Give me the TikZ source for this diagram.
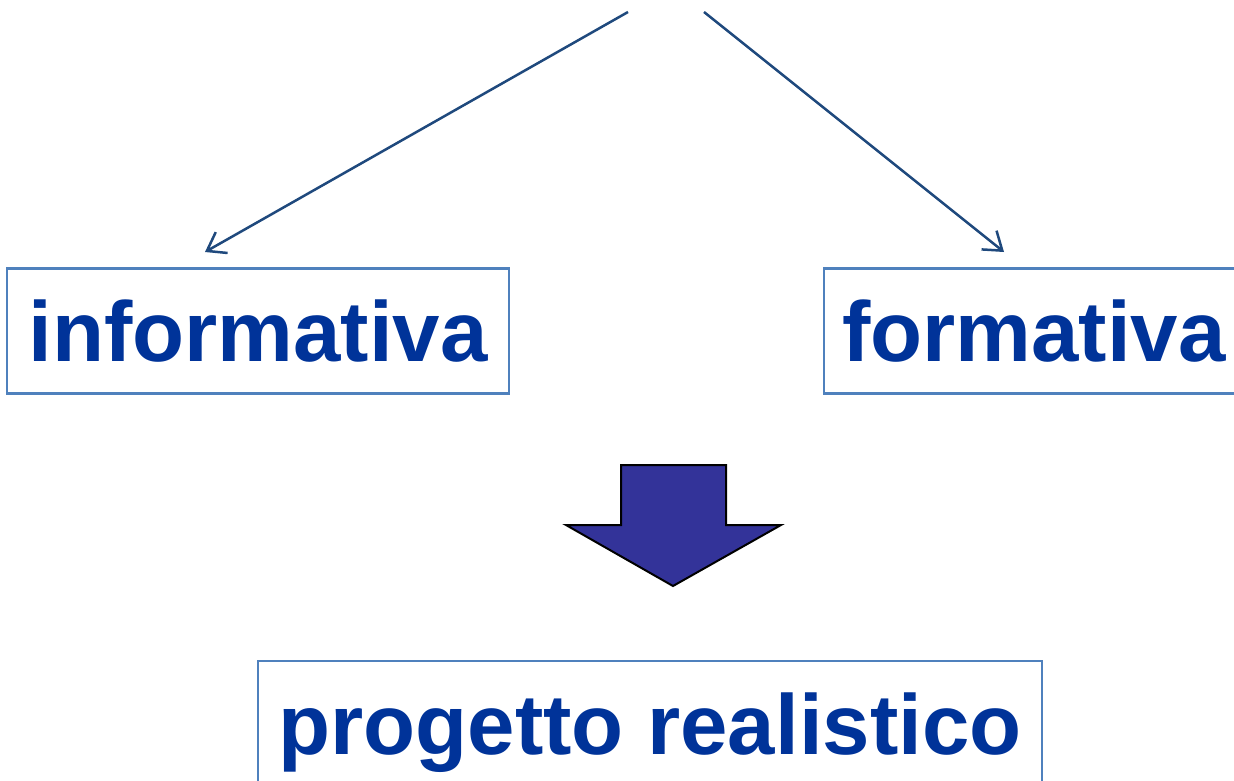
\documentclass[tikz,border=0pt]{standalone}
\usepackage{fontspec}
\setmainfont{Liberation Sans}
\usetikzlibrary{arrows.meta,positioning}
\definecolor{mytext}{RGB}{0,51,153}
\definecolor{myborder}{RGB}{79,129,189}
\definecolor{myline}{RGB}{31,73,125}
\definecolor{myfill}{RGB}{51,51,153}

\begin{document}
\begin{tikzpicture}[
  x=1pt,y=-1pt,
  mybox/.style={
    draw=myborder,
    line width=2.5pt,
    text=mytext,
    font=\fontsize{85.2}{100}\selectfont\bfseries,
    inner sep=0pt,
    minimum height=#1
    },
  myarrow/.style={
    draw=myline,
    line width=2.5pt,
    -{Straight Barb[length=17pt,width=24pt]}
  }
]
\useasboundingbox (0,0) rectangle (1234,780);

\node[mybox=125pt, minimum width=502pt] (informativa) at (258,331) {informativa};
\node[mybox=125pt, minimum width=420pt] (formativa) at (1034,331) {formativa};
\node[mybox=144pt, minimum width=784pt] (progetto) at (650,733) {progetto realistico};

\coordinate (srcleft) at (628,12);
\coordinate (srcright) at (704,12);
\coordinate (tipleft) at (205,252);
\coordinate (tipright) at (1004,252);

\draw[myarrow] (srcleft) -- (tipleft);
\draw[myarrow] (srcright) -- (tipright);

% block arrow
\draw[fill=myfill, line width=2pt, line join=miter]
  (621,465) -- (726,465) -- (726,525) -- (781,525) -- (673,586)
  -- (566,525) -- (621,525) -- cycle;

\end{tikzpicture}
\end{document}
